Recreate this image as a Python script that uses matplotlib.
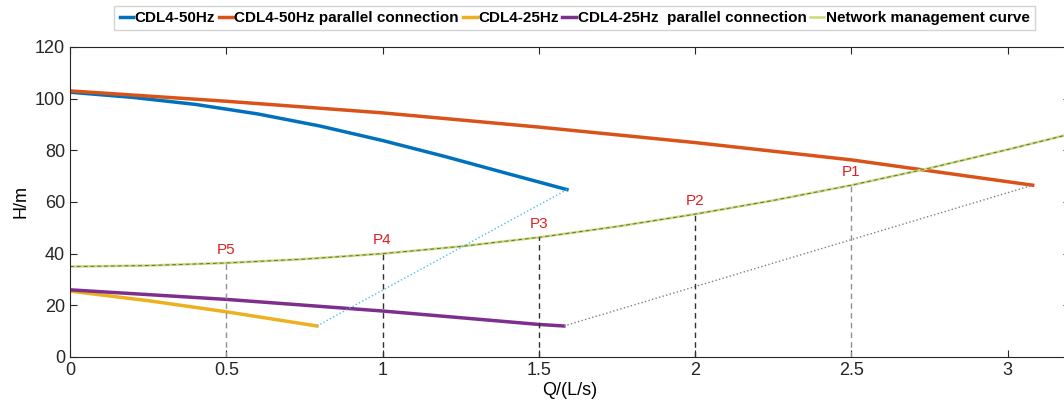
import matplotlib.pyplot as plt

plt.rcParams['font.family'] = ['Liberation Sans', 'DejaVu Sans']

# CDL4-50Hz single pump
q_50 = [0, 0.2, 0.4, 0.6, 0.8, 1.0, 1.2, 1.4, 1.59]
h_50 = [102.5, 100.5, 97.8, 94.1, 89.4, 83.8, 77.6, 71.0, 64.8]

# CDL4-50Hz parallel connection
q_50p = [0, 0.5, 1.0, 1.5, 2.0, 2.5, 3.08]
h_50p = [103.0, 99.0, 94.5, 89.0, 83.0, 76.3, 66.5]

# CDL4-25Hz single pump
q_25 = [0, 0.25, 0.5, 0.79]
h_25 = [25.5, 21.8, 17.5, 12.0]

# CDL4-25Hz parallel connection
q_25p = [0, 0.5, 1.0, 1.5, 1.58]
h_25p = [26.0, 22.3, 17.8, 12.6, 12.0]

# network management curve
q_net = [0, 0.25, 0.5, 0.75, 1.0, 1.25, 1.5, 1.75, 2.0, 2.25, 2.5, 2.75, 3.0, 3.2]
h_net = [35.0, 35.4, 36.4, 37.9, 40.0, 42.8, 46.3, 50.5, 55.3, 60.6, 66.5, 73.1, 80.3, 86.3]

# operating points
p_names = ['P1', 'P2', 'P3', 'P4', 'P5']
p_q = [2.5, 2.0, 1.5, 1.0, 0.5]
p_h = [66.5, 55.3, 46.3, 40.0, 36.4]
p_col = ['#909090', '#303030', '#303030', '#303030', '#909090']

fig = plt.figure(figsize=(10.64, 4.17), dpi=100)
ax = fig.add_axes([0.0658, 0.1439, 0.94, 0.7434])

l1, = ax.plot(q_50, h_50, color='#0072BD', lw=2.5, label='CDL4-50Hz')
l2, = ax.plot(q_50p, h_50p, color='#D95319', lw=2.5, label='CDL4-50Hz parallel connection')
l3, = ax.plot(q_25, h_25, color='#EDB120', lw=2.5, label='CDL4-25Hz')
l4, = ax.plot(q_25p, h_25p, color='#7E2F8E', lw=2.5, label='CDL4-25Hz  parallel connection')
l5, = ax.plot(q_net, h_net, color='#C8DC78', lw=1.8, label='Network management curve')
ax.plot(q_net, h_net, color='#6a6a50', lw=0.7, dashes=(4, 3))

# connecting dotted lines between curve ends
ax.plot([q_25[-1], q_50[-1]], [h_25[-1], h_50[-1]], color='#4DBEEE', lw=1, ls=':')
ax.plot([q_25p[-1], q_50p[-1]], [h_25p[-1], h_50p[-1]], color='#808080', lw=1, ls=':')

for name, q, h, c in zip(p_names, p_q, p_h, p_col):
    ax.plot([q, q], [0, h], color=c, lw=1, dashes=(4, 3))
    ax.text(q, h + 2.5, name, color='#E02020', fontsize=11, ha='center', va='bottom')

ax.set_xlim(0, 3.2)
ax.set_ylim(0, 120)
ax.set_xticks([0, 0.5, 1, 1.5, 2, 2.5, 3])
ax.set_xticklabels(['0', '0.5', '1', '1.5', '2', '2.5', '3'])
ax.set_yticks(range(0, 121, 20))
ax.tick_params(labelsize=13, colors='#262626', direction='in', top=True, right=True, length=5)
for s in ax.spines.values():
    s.set_color('#262626')
    s.set_linewidth(0.8)
ax.set_xlabel('Q/(L/s)', fontsize=13, labelpad=2)
ax.set_ylabel('H/m', fontsize=13)

fig.legend(handles=[l1, l2, l3, l4, l5], loc='center', bbox_to_anchor=(0.54, 0.957),
           ncol=5, handlelength=0.9, handletextpad=0.1, columnspacing=0.25,
           prop={'size': 11, 'weight': 'bold'}, frameon=True, fancybox=False,
           edgecolor='#c8c8c8', borderpad=0.35)

fig.savefig('out.png', dpi=100)
